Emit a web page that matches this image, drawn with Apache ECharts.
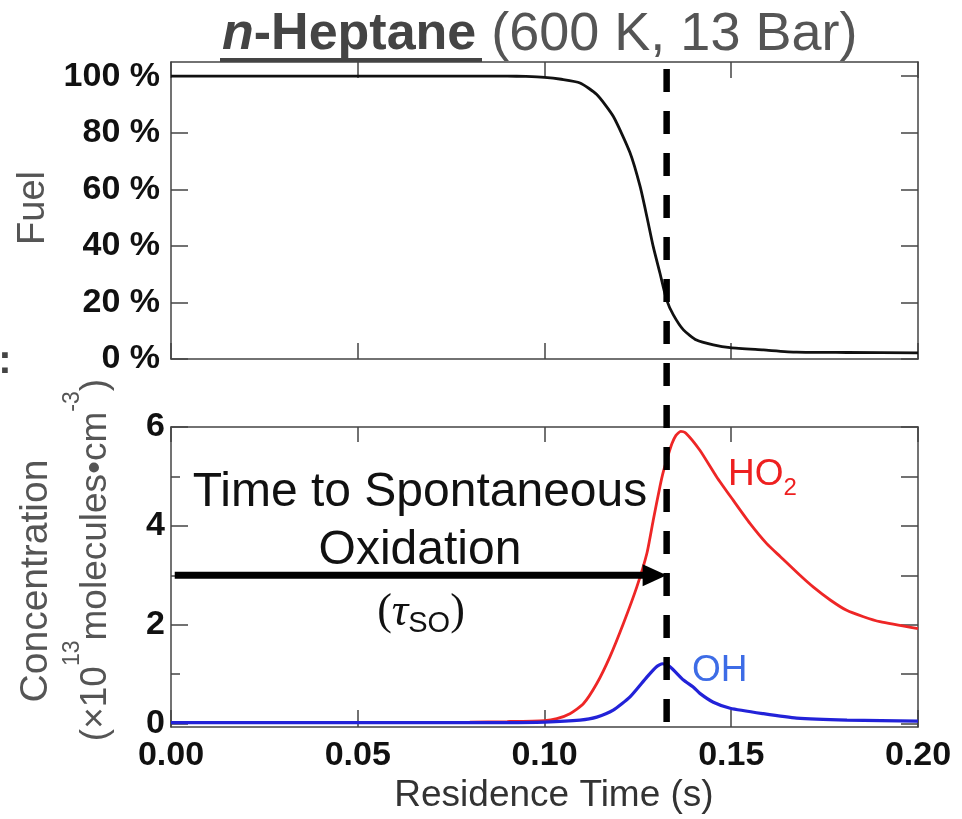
<!DOCTYPE html>
<html><head><meta charset="utf-8">
<script src="https://cdn.jsdelivr.net/npm/echarts@6/dist/echarts.min.js"></script>
<style>html,body{margin:0;padding:0;background:#fff}#c{width:962px;height:819px}</style>
</head><body><div id="c"></div>
<script>
// ---- data ----
const fuelTime = [0, 0.02, 0.04, 0.06, 0.08, 0.09, 0.095, 0.100, 0.1045, 0.1095, 0.114, 0.1184, 0.1229, 0.1256, 0.1274, 0.1291, 0.1309, 0.1327, 0.1345, 0.1372, 0.1407, 0.1452, 0.1497, 0.1586, 0.1675, 0.181, 0.2];
const fuelPct  = [100, 100, 100, 100, 100, 100, 99.9, 99.6, 98.9, 97.6, 93.5, 85.8, 72.9, 61, 50.4, 39.8, 30.4, 20.9, 15.6, 10.3, 6.7, 5.0, 4.0, 3.2, 2.4, 2.3, 2.2];
const ho2Time = [0, 0.02, 0.04, 0.06, 0.08, 0.09, 0.1, 0.1033, 0.1068, 0.1104, 0.114, 0.1175, 0.1211, 0.1247, 0.1274, 0.1291, 0.1309, 0.1318, 0.1330, 0.1341, 0.1352, 0.1365, 0.1378, 0.1416, 0.1461, 0.1505, 0.155, 0.1595, 0.1631, 0.1684, 0.172, 0.1765, 0.1809, 0.1854, 0.1898, 0.2];
const ho2Conc = [0.02, 0.02, 0.02, 0.02, 0.03, 0.04, 0.06, 0.10, 0.20, 0.40, 0.81, 1.35, 2.02, 2.76, 3.44, 4.11, 4.79, 5.09, 5.40, 5.66, 5.83, 5.91, 5.88, 5.53, 4.99, 4.52, 4.05, 3.64, 3.38, 3.00, 2.76, 2.50, 2.29, 2.16, 2.06, 1.92];
const ohTime = [0, 0.02, 0.04, 0.06, 0.08, 0.09, 0.1, 0.1095, 0.114, 0.1184, 0.1229, 0.1274, 0.13, 0.1316, 0.1336, 0.1372, 0.1398, 0.1416, 0.1452, 0.1497, 0.1586, 0.1675, 0.181, 0.2];
const ohConc = [0.02, 0.02, 0.02, 0.02, 0.02, 0.02, 0.03, 0.07, 0.13, 0.27, 0.54, 0.94, 1.15, 1.21, 1.15, 0.88, 0.74, 0.61, 0.43, 0.31, 0.20, 0.11, 0.07, 0.05];
const fuelTicks = [0, 20, 40, 60, 80, 100];
const concMajorTicks = [0, 2, 4, 6];
const concMinorTicks = [1, 3, 5];
const concRightTicks = [0, 1, 2, 3, 4, 5, 6];
const tauSO = 0.1327;      // time to spontaneous oxidation
const arrowLevel = 3;      // concentration level of the arrow

// ---- chart ----
const SANS = '"Liberation Sans", Arial, Helvetica, sans-serif';
const SERIF = '"Liberation Serif", "DejaVu Serif", serif';
const AX = '#444';
const chart = echarts.init(document.getElementById('c'));

function xAx(grid, pos, tickLen, showLabel) {
  return {
    type: 'value', gridIndex: grid, position: pos, min: 0, max: 0.2, interval: 0.05,
    axisLine: { show: true, onZero: false, lineStyle: { color: AX, width: 1.5 } },
    axisTick: { show: true, inside: true, length: tickLen, lineStyle: { color: AX, width: 1.5 } },
    axisLabel: { show: showLabel, margin: 12, color: '#111', fontFamily: SANS, fontSize: 34, fontWeight: 'bold',
      formatter: v => v.toFixed(2) },
    splitLine: { show: false }
  };
}
function yAx(grid, pos, min, max, ticks, tickLen, labels, fmt, showLine, margin) {
  return {
    type: 'value', gridIndex: grid, position: pos, min: min, max: max,
    axisLine: { show: showLine, onZero: false, lineStyle: { color: AX, width: 1.5 } },
    axisTick: { show: true, inside: true, length: tickLen, customValues: ticks, lineStyle: { color: AX, width: 1.5 } },
    axisLabel: { show: !!labels, customValues: labels || ticks, margin: margin || 10, color: '#111', fontFamily: SANS,
      fontSize: 34, fontWeight: 'bold', formatter: fmt || (v => String(v)) },
    splitLine: { show: false }
  };
}
const zip = (a, b) => a.map((x, i) => [x, b[i]]);

const option = {
  animation: false,
  backgroundColor: '#fff',
  grid: [
    { left: 171, right: 44, top: 62, height: 297 },
    { left: 171, right: 44, top: 427, height: 300 }
  ],
  xAxis: [
    xAx(0, 'bottom', 16, false),
    xAx(0, 'top', 16, false),
    xAx(1, 'bottom', 17, true),
    xAx(1, 'top', 15, false)
  ],
  yAxis: [
    yAx(0, 'left', 0, 105, fuelTicks, 17, fuelTicks, v => v + ' %', true, 11),
    yAx(0, 'right', 0, 105, fuelTicks, 17, null, null, true),
    yAx(1, 'left', -0.07, 6, concMajorTicks, 17, concMajorTicks, null, true, 6),
    yAx(1, 'left', -0.07, 6, concMinorTicks, 9, null, null, false),
    yAx(1, 'right', -0.07, 6, concRightTicks, 17, null, null, true)
  ],
  series: [
    { name: 'Fuel', type: 'line', xAxisIndex: 0, yAxisIndex: 0, data: zip(fuelTime, fuelPct),
      showSymbol: false, smooth: 0.2, lineStyle: { color: '#111', width: 2.8 }, z: 3 },
    { name: 'HO2', type: 'line', xAxisIndex: 2, yAxisIndex: 2, data: zip(ho2Time, ho2Conc),
      showSymbol: false, smooth: 0.2, lineStyle: { color: '#ee2626', width: 2.8 }, z: 3 },
    { name: 'OH', type: 'line', xAxisIndex: 2, yAxisIndex: 2, data: zip(ohTime, ohConc),
      showSymbol: false, smooth: 0.2, lineStyle: { color: '#2222d8', width: 3.2 }, z: 4 }
  ]
};
chart.setOption(option);

// annotation positions derived from the chart's own scales
const px = chart.convertToPixel({ xAxisIndex: 0 }, tauSO);
const yTop = chart.convertToPixel({ yAxisIndex: 0 }, 102.5);
const yBot = chart.convertToPixel({ yAxisIndex: 2 }, 0);
const ax0 = chart.convertToPixel({ xAxisIndex: 2 }, 0.001);
const ay = chart.convertToPixel({ yAxisIndex: 2 }, arrowLevel);

chart.setOption({
  graphic: [
    // title
    { type: 'text', x: 222, y: 35, z: 50, style: {
        text: '{i|n}{b|-Heptane}{r| (600 K, 13 Bar)}', verticalAlign: 'middle', align: 'left',
        rich: {
          i: { fontFamily: SANS, fontSize: 52, fontWeight: 'bold', fontStyle: 'italic', fill: '#444' },
          b: { fontFamily: SANS, fontSize: 52, fontWeight: 'bold', fill: '#444' },
          r: { fontFamily: SANS, fontSize: 54, fill: '#555' }
        } } },
    { type: 'line', z: 50, shape: { x1: 220, y1: 60, x2: 482, y2: 60 }, style: { stroke: '#444', lineWidth: 4 } },
    // axis titles
    { type: 'text', x: 34, y: 208, rotation: Math.PI / 2, z: 50, style: {
        text: 'Fuel', align: 'center', verticalAlign: 'middle', fontFamily: SANS, fontSize: 38, fill: '#555' } },
    { type: 'text', x: 36, y: 581, rotation: Math.PI / 2, z: 50, style: {
        text: 'Concentration', align: 'center', verticalAlign: 'middle', fontFamily: SANS, fontSize: 39, fill: '#555' } },
    { type: 'text', x: 88, y: 560, rotation: Math.PI / 2, z: 50, style: {
        text: '{m|(×10}{s|13}{m|molecules•cm}{s|-3}{m|)}', align: 'center', verticalAlign: 'middle',
        rich: {
          m: { fontFamily: SANS, fontSize: 37, fill: '#555', lineHeight: 53, verticalAlign: 'bottom' },
          s: { fontFamily: SANS, fontSize: 23, fill: '#555', lineHeight: 23, verticalAlign: 'top' }
        } } },
    { type: 'text', x: 554, y: 796, z: 50, style: {
        text: 'Residence Time (s)', align: 'center', verticalAlign: 'middle', fontFamily: SANS, fontSize: 37, fill: '#333' } },
    // stray colon at left edge
    { type: 'text', x: 5, y: 362, z: 50, style: {
        text: ':', align: 'center', verticalAlign: 'middle', fontFamily: SANS, fontSize: 40, fontWeight: 'bold', fill: '#444' } },
    // annotation text
    { type: 'text', x: 420, y: 522, z: 50, style: {
        text: 'Time to Spontaneous\nOxidation', align: 'center', verticalAlign: 'middle', lineHeight: 58,
        fontFamily: SANS, fontSize: 48, fill: '#111' } },
    { type: 'text', x: 421, y: 614, z: 50, style: {
        text: '{p|(}{t|τ}{s|SO}{p|)}', align: 'center', verticalAlign: 'middle',
        rich: {
          p: { fontFamily: SERIF, fontSize: 44, fill: '#111', lineHeight: 48, verticalAlign: 'top' },
          t: { fontFamily: SERIF, fontSize: 46, fontStyle: 'italic', fill: '#111', lineHeight: 48, verticalAlign: 'top' },
          s: { fontFamily: SANS, fontSize: 29, fill: '#111', lineHeight: 28, verticalAlign: 'bottom' }
        } } },
    { type: 'text', x: 728, y: 478, z: 50, style: {
        text: '{m|HO}{s|2}', align: 'left', verticalAlign: 'middle',
        rich: {
          m: { fontFamily: SANS, fontSize: 37, fill: '#ee2020', lineHeight: 44, verticalAlign: 'top' },
          s: { fontFamily: SANS, fontSize: 24, fill: '#ee2020', lineHeight: 24, verticalAlign: 'bottom' }
        } } },
    { type: 'text', x: 692, y: 671, z: 50, style: {
        text: 'OH', align: 'left', verticalAlign: 'middle', fontFamily: SANS, fontSize: 37, fill: '#3d6ce6' } },
    // arrow
    { type: 'line', z: 60, shape: { x1: ax0, y1: ay, x2: px - 20, y2: ay }, style: { stroke: '#000', lineWidth: 7 } },
    { type: 'polygon', z: 60, shape: { points: [[px - 24, ay - 11], [px, ay], [px - 24, ay + 11]] }, style: { fill: '#000' } },
    // dashed marker line
    { type: 'line', z: 70, shape: { x1: px, y1: yTop, x2: px, y2: yBot }, style: { stroke: '#000', lineWidth: 6.5, lineDash: [23, 19] } }
  ]
});
</script>
</body></html>
